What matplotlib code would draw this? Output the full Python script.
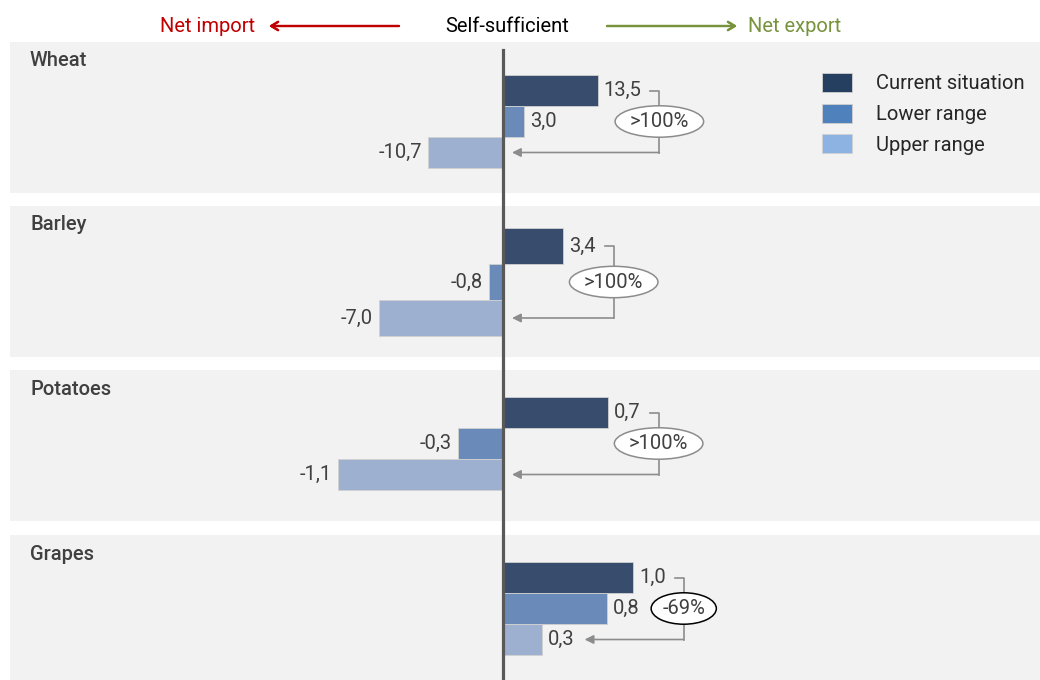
import matplotlib.pyplot as plt
from matplotlib.lines import Line2D
from matplotlib.patches import Patch

plt.rcParams['font.family'] = ['Roboto', 'DejaVu Sans']

# data
crops = ['Wheat', 'Barley', 'Potatoes', 'Grapes']
series = ['Current situation', 'Lower range', 'Upper range']
current = [13.5, 3.4, 0.7, 1.0]
lower = [3.0, -0.8, -0.3, 0.8]
upper = [-10.7, -7.0, -1.1, 0.3]
change = ['>100%', '>100%', '>100%', '-69%']

bar_colors = ['#384C6D', '#6A8BB9', '#9DB0CF']
legend_colors = ['#243F60', '#4F81BD', '#8DB3E2']
text_col = '#404040'
grey = '#8C8C8C'
fs = 14.5

# layout in pixels of the 1040x680 canvas
W, H = 1040, 680
zero_px = 503
left_px = 10
panel_top = [42, 206, 370, 535]
panel_bot = [193, 357, 521, 680]
px_per_unit = [7.0, 17.7, 150, 130]
bar_px = [31, 36, 31, 31]
top_gap = [33, 22, 27, 27]


def fx(px):
    return px / W


def fy(py):
    return 1 - py / H


def fmt(v):
    return f'{v:.1f}'.replace('.', ',')


fig = plt.figure(figsize=(W / 100, H / 100), dpi=100)

axes = []
for i, crop in enumerate(crops):
    h = panel_bot[i] - panel_top[i]
    ax = fig.add_axes([fx(left_px), fy(panel_bot[i]), fx(W - left_px), h / H])
    ax.set_facecolor('#F2F2F2')
    for s in ax.spines.values():
        s.set_visible(False)
    ax.set_xticks([])
    ax.set_yticks([])
    ppu = px_per_unit[i]
    ax.set_xlim(-(zero_px - left_px) / ppu, (W - zero_px) / ppu)
    y0 = -0.5 - top_gap[i] / bar_px[i]
    ax.set_ylim(y0 + h / bar_px[i], y0)

    vals = [current[i], lower[i], upper[i]]
    ax.barh(range(3), vals, height=1.0, color=bar_colors,
            edgecolor='#D0D0D0', linewidth=0.6)
    labels = []
    for j, v in enumerate(vals):
        t = ax.annotate(fmt(v), xy=(v, j), xytext=(6 if v >= 0 else -6, 0),
                        textcoords='offset pixels', va='center',
                        ha='left' if v >= 0 else 'right',
                        fontsize=fs, color=text_col)
        labels.append(t)
    ax.text((30 - left_px) / (W - left_px), 1 - 19 / h, crop,
            transform=ax.transAxes, ha='left', va='center',
            fontsize=fs, fontweight='medium', color=text_col)
    axes.append((ax, labels))

fig.canvas.draw()
rend = fig.canvas.get_renderer()

for i, (ax, labels) in enumerate(axes):
    inv = ax.transData.inverted()
    ppu = px_per_unit[i]
    cur_ext = labels[0].get_window_extent(rend)
    bx = inv.transform((cur_ext.x1 + 18, 0))[0]
    tick0 = inv.transform((cur_ext.x1 + 9, 0))[0]
    ax.plot([tick0, bx, bx], [0, 0, 2], color=grey, lw=1.2, zorder=3)
    if upper[i] >= 0:
        up_ext = labels[2].get_window_extent(rend)
        tip = inv.transform((up_ext.x1 + 10, 0))[0]
    else:
        tip = 9 / ppu
    ax.annotate('', xy=(tip, 2), xytext=(bx, 2),
                arrowprops=dict(arrowstyle='-|>', color=grey, lw=1.2,
                                shrinkA=0, shrinkB=0, mutation_scale=13))
    edge = 'black' if change[i].startswith('-') else grey
    ax.text(bx, 1, change[i], ha='center', va='center', fontsize=fs,
            color=text_col, zorder=5,
            bbox=dict(boxstyle='ellipse,pad=0.08', fc='white', ec=edge, lw=1.1))

# legend in the first panel
handles = [Patch(facecolor=c, edgecolor='#D0D0D0', linewidth=0.6) for c in legend_colors]
em = fs * 100 / 72
axes[0][0].legend(handles, series, loc='upper left',
                  bbox_to_anchor=(fx(822), fy(73)), bbox_transform=fig.transFigure,
                  frameon=False, borderpad=0, borderaxespad=0, fontsize=fs,
                  handlelength=30 / em, handleheight=22 / em,
                  handletextpad=24 / em, labelspacing=0.5, labelcolor='#262626')

# zero line
fig.add_artist(Line2D([fx(zero_px)] * 2, [fy(50), fy(H)], transform=fig.transFigure,
                      color='#595959', lw=2.3, zorder=10))

# header
fig.text(fx(208), fy(26), 'Net import', ha='center', va='center',
         fontsize=fs, color='#C00000')
fig.text(fx(507), fy(26), 'Self-sufficient', ha='center', va='center',
         fontsize=fs, color='black')
fig.text(fx(795), fy(26), 'Net export', ha='center', va='center',
         fontsize=fs, color='#77933C')
fig.add_artist(plt.annotate('', xy=(fx(269), fy(26)), xytext=(fx(399), fy(26)),
                            xycoords='figure fraction',
                            arrowprops=dict(arrowstyle='->,head_length=0.5,head_width=0.3',
                                            color='#C00000', lw=1.6,
                                            shrinkA=0, shrinkB=0)))
fig.add_artist(plt.annotate('', xy=(fx(737), fy(26)), xytext=(fx(607), fy(26)),
                            xycoords='figure fraction',
                            arrowprops=dict(arrowstyle='->,head_length=0.5,head_width=0.3',
                                            color='#77933C', lw=1.6,
                                            shrinkA=0, shrinkB=0)))

fig.savefig('out.png', dpi=100)
